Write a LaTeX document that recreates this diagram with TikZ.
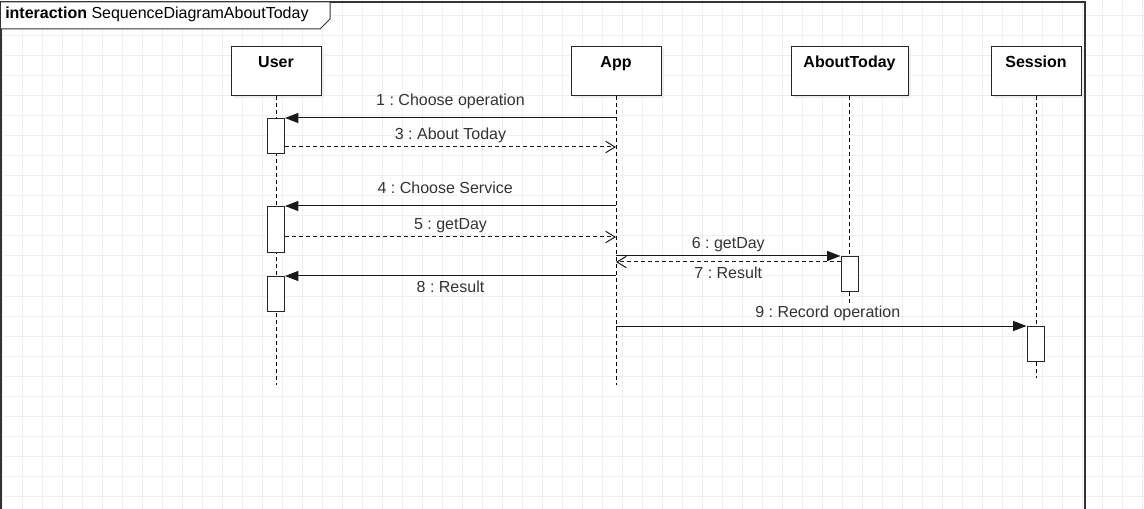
\documentclass[tikz,border=0pt]{standalone}
\usepackage{fontspec}
\setmainfont{Liberation Sans}
\usetikzlibrary{arrows.meta,positioning,calc,shadows}
\frenchspacing

\begin{document}
\begin{tikzpicture}[
    x=0.75pt, y=-0.75pt,
    font=\fontsize{12}{14}\selectfont,
    >={Triangle[length=10pt,width=7.5pt]},
    lifebox/.style={
		rectangle,
		draw=black!85,
		line width=0.75pt,
		fill=white,
		anchor=north,
		minimum width=67.5pt,
		inner sep=0pt,
		text height=15.75pt,
		text depth=21pt,
		font=\fontsize{12}{14}\selectfont\bfseries,
		drop shadow={shadow xshift=2.25pt, shadow yshift=-2.25pt, fill=black!7, opacity=1}
	},
	activ/.style={
		rectangle,
		draw=black!85,
		line width=0.75pt,
		fill=white,
		anchor=north,
		minimum width=12.75pt,
		minimum height=26.25pt,
		inner sep=0pt
	},
	lifeline/.style={draw=black, line width=0.75pt, dash pattern=on 3pt off 2.25pt},
	call/.style={draw=black!90, line width=0.75pt, ->},
	reply/.style={draw=black!90, line width=0.75pt, dash pattern=on 3pt off 2.25pt,
		-{Straight Barb[length=7pt,width=8.5pt]}},
	msg/.style={anchor=base, text=black!80, inner sep=0pt},
	frame/.style={draw=black!80, line width=1pt},
	gridline/.style={draw=black!6, line width=0.75pt}
  ]
  \useasboundingbox (0,0) rectangle (1144,509);

  % background grid
  \foreach \gx in {2,22,...,1142}
    \draw [gridline] (\gx,0) -- (\gx,509);
  \foreach \gy in {16,36,...,509}
    \draw [gridline] (0,\gy) -- (1144,\gy);

  % interaction frame
  \draw [frame] (1,2) rectangle (1085,520);
  \draw [frame, line width=0.75pt, fill=white] (1,2) -- (330,2) -- (330,19) -- (320,29) -- (1,29);
  \node [anchor=base west, inner sep=0pt] (title) at (5,19)
    {\textbf{interaction} SequenceDiagramAboutToday};

  % lifelines
  \node [lifebox] (user) at (276,46) {User};
  \node [lifebox] (app) at (616,46) {App};
  \node [lifebox, minimum width=87.75pt] (about) at (849.5,46) {AboutToday};
  \node [lifebox] (session) at (1036,46) {Session};

  \coordinate (userend) at (276,385);
  \coordinate (append) at (616,385);
  \coordinate (aboutend) at (849.5,305);
  \coordinate (sessionend) at (1036,378);

  \draw [lifeline] (user.south) -- (userend);
  \draw [lifeline] (app.south) -- (append);
  \draw [lifeline] (about.south) -- (aboutend);
  \draw [lifeline] (session.south) -- (sessionend);

  % activations
  \node [activ] (user1) at (276,118) {};
  \node [activ, minimum height=34.5pt] (user2) at (276,206) {};
  \node [activ] (user3) at (276,276) {};
  \node [activ] (about1) at (849.5,256) {};
  \node [activ] (session1) at (1035.5,326) {};

  \coordinate (r3) at ($(user1.south east)+(0,-7)$);
  \coordinate (r5) at ($(user2.south east)+(0,-16)$);
  \coordinate (r7) at ($(about1.north west)+(0,6)$);

  % messages
  \draw [call] (app |- user1.north east) -- node [msg, yshift=9.25pt] {1 : Choose operation} (user1.north east);
  \draw [reply] (r3) -- node [msg, yshift=5.25pt] {3 : About Today} (app |- r3);
  \draw [call] (app |- user2.north east) -- node [msg, yshift=9.5pt, xshift=-4pt] {4 : Choose Service} (user2.north east);
  \draw [reply] (r5) -- node [msg, yshift=5.75pt] {5 : getDay} (app |- r5);
  \draw [call] (app |- about1.north west) -- node [msg, yshift=5.75pt] {6 : getDay} (about1.north west);
  \draw [reply] (r7) -- node [msg, yshift=-12.75pt] {7 : Result} (app |- r7);
  \draw [call] (app |- user3.north east) -- node [msg, yshift=-12.5pt] {8 : Result} (user3.north east);
  \draw [call] (app |- session1.north west) -- node [msg, yshift=6.25pt, xshift=4.9pt] {9 : Record operation} (session1.north west);

\end{tikzpicture}
\end{document}
